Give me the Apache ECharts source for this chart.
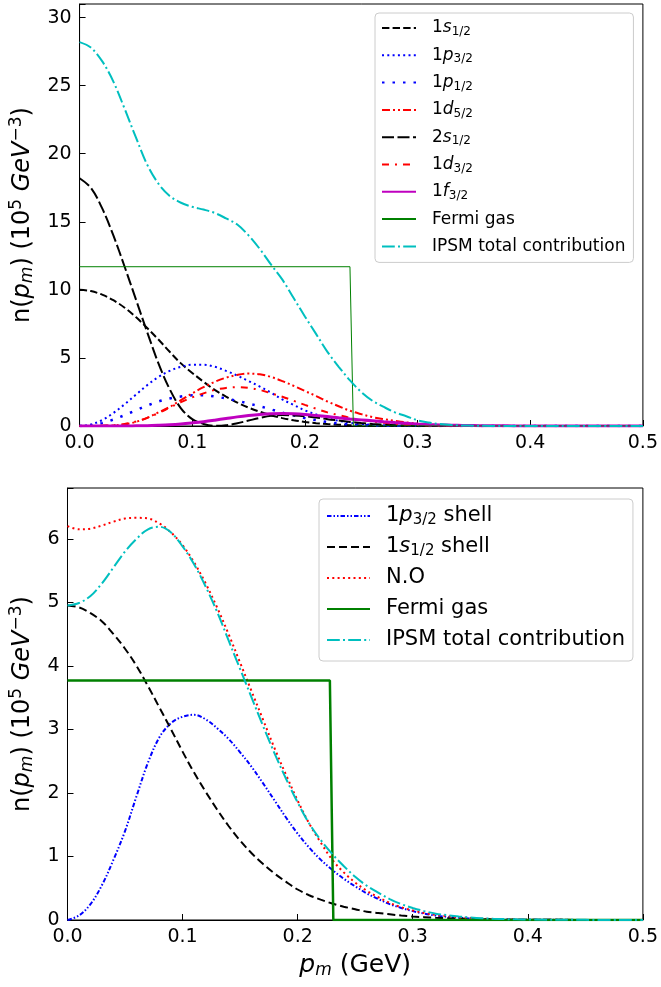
<!DOCTYPE html>
<html><head><meta charset="utf-8">
<script src="https://cdn.jsdelivr.net/npm/echarts@6/dist/echarts.min.js"></script>
<style>html,body{margin:0;padding:0;background:#fff}#c{width:661px;height:987px}</style>
</head><body><div id="c"></div>
<script>
// momentum grid (GeV)
const pm = [0,0.01,0.02,0.03,0.04,0.05,0.06,0.07,0.08,0.09,0.10,0.11,0.12,0.13,0.14,0.15,0.16,0.17,0.18,0.19,0.20,0.21,0.22,0.23,0.24,0.25,0.26,0.27,0.28,0.29,0.30,0.31,0.32,0.33,0.34,0.35,0.36,0.37,0.38,0.39,0.40,0.45,0.50];
const xTicks = ['0.0','0.1','0.2','0.3','0.4','0.5'];

// ---- top panel (units 10^5 GeV^-3) ----
const top1s  = [10,9.91,9.65,9.24,8.69,8.0,7.2,6.35,5.45,4.6, 3.9,3.25,2.65,2.15,1.72,1.35,1.05,0.79,0.58,0.42, 0.3,0.21,0.14,0.095,0.063,0.041,0.026,0.016,0.01,0.006, 0.004,0.002,0.001,0,0,0,0,0,0,0,0, 0,0];
const top1p3 = [0,0.11,0.43,0.95,1.6,2.3,3.0,3.6,4.05,4.35, 4.5,4.5,4.35,4.05,3.7,3.3,2.9,2.45,1.95,1.55, 1.15,0.85,0.58,0.38,0.24,0.15,0.09,0.05,0.03,0.02, 0.01,0.005,0,0,0,0,0,0,0,0,0, 0,0];
const top1p1 = [0,0.05,0.21,0.47,0.8,1.15,1.5,1.8,2.02,2.17, 2.25,2.25,2.17,2.02,1.85,1.65,1.45,1.22,0.98,0.78, 0.58,0.43,0.29,0.19,0.12,0.07,0.045,0.025,0.015,0.01, 0.005,0,0,0,0,0,0,0,0,0,0, 0,0];
const top1d5 = [0,0,0.02,0.05,0.12,0.3,0.6,1.0,1.4,1.9, 2.4,2.85,3.25,3.55,3.75,3.85,3.8,3.6,3.3,2.95, 2.57,2.2,1.8,1.45,1.12,0.87,0.65,0.5,0.38,0.26, 0.17,0.1,0.06,0.03,0.02,0.01,0,0,0,0,0, 0,0];
const top2s  = [18.2,17.5,16.0,14.0,11.7,9.3,6.9,4.6,2.7,1.3, 0.5,0.15,0.01,0.05,0.2,0.4,0.6,0.75,0.8,0.78, 0.72,0.62,0.5,0.4,0.3,0.22,0.15,0.1,0.06,0.04, 0.02,0.01,0,0,0,0,0,0,0,0,0, 0,0];
const top1d3 = [0,0,0.02,0.06,0.15,0.33,0.6,0.95,1.35,1.75, 2.1,2.4,2.65,2.8,2.85,2.8,2.65,2.4,2.15,1.85, 1.55,1.27,1.0,0.8,0.6,0.45,0.33,0.23,0.16,0.1, 0.07,0.04,0.02,0.01,0,0,0,0,0,0,0, 0,0];
const top1f  = [0,0,0,0,0,0.01,0.02,0.05,0.09,0.15, 0.23,0.32,0.43,0.55,0.67,0.77,0.85,0.9,0.92,0.9, 0.85,0.77,0.69,0.6,0.52,0.45,0.38,0.31,0.25,0.2, 0.15,0.11,0.08,0.06,0.04,0.03,0.02,0.015,0.01,0.005,0, 0,0];
const topIPSM= [28.2,27.8,26.8,25.3,23.3,21.2,19.2,17.8,16.9,16.4, 16.1,15.9,15.65,15.25,14.8,14.0,13.0,11.85,10.75,9.4, 8.05,6.75,5.45,4.35,3.35,2.5,1.85,1.4,1.0,0.72, 0.42,0.25,0.14,0.07,0.04,0.02,0.01,0,0,0,0, 0,0];
const topFermiX = [0,0.240,0.243,0.5];
const topFermiY = [11.7,11.7,0,0];

// ---- bottom panel ----
const bot1p3 = [0,0.07,0.25,0.55,0.95,1.4,1.95,2.48,2.88,3.1, 3.2,3.23,3.16,3.02,2.85,2.64,2.41,2.15,1.88,1.61, 1.36,1.14,0.95,0.79,0.65,0.53,0.42,0.33,0.25,0.19, 0.14,0.1,0.07,0.05,0.035,0.025,0.015,0.01,0.008,0.005,0.004, 0.001,0];
const bot1s  = [4.95,4.92,4.83,4.7,4.5,4.27,4.0,3.68,3.34,3.0, 2.65,2.32,2.02,1.74,1.48,1.25,1.05,0.88,0.73,0.6, 0.48,0.39,0.32,0.26,0.21,0.17,0.13,0.11,0.09,0.07, 0.055,0.045,0.035,0.028,0.022,0.017,0.013,0.01,0.008,0.006,0.005, 0.001,0];
const botNO  = [6.2,6.15,6.16,6.21,6.27,6.32,6.33,6.32,6.24,6.1, 5.9,5.63,5.3,4.92,4.5,4.05,3.6,3.15,2.7,2.28, 1.88,1.52,1.22,0.95,0.75,0.59,0.46,0.36,0.27,0.2, 0.15,0.11,0.08,0.06,0.04,0.03,0.02,0.015,0.01,0.007,0.005, 0.001,0];
const botIPSM= [4.95,4.99,5.1,5.3,5.55,5.8,6.0,6.15,6.19,6.1, 5.88,5.6,5.25,4.85,4.4,3.95,3.5,3.05,2.62,2.22, 1.85,1.52,1.26,1.04,0.85,0.68,0.54,0.43,0.33,0.25, 0.19,0.14,0.1,0.075,0.055,0.04,0.028,0.02,0.015,0.01,0.008, 0.002,0];
const botFermiX = [0,0.228,0.231,0.5];
const botFermiY = [3.77,3.77,0,0];

const FF = 'DejaVu Sans';
const pts = (xs, ys) => xs.map((x, i) => [x, ys[i]]);

const legendNames = {
  t1s:'{sp| }{n|1}{i|s}{sub|1/2}', t1p3:'{sp| }{n|1}{i|p}{sub|3/2}', t1p1:'{sp| }{n|1}{i|p}{sub|1/2}',
  t1d5:'{sp| }{n|1}{i|d}{sub|5/2}', t2s:'{sp| }{n|2}{i|s}{sub|1/2}', t1d3:'{sp| }{n|1}{i|d}{sub|3/2}',
  t1f:'{sp| }{n|1}{i|f}{sub|3/2}', tF:'{sp| }{n|Fermi gas}', tI:'{sp| }{n|IPSM total contribution}',
  b1p3:'{sp| }{n|1}{i|p}{sub|3/2}{n| shell}', b1s:'{sp| }{n|1}{i|s}{sub|1/2}{n| shell}', bNO:'{sp| }{n|N.O}',
  bF:'{sp| }{n|Fermi gas}', bI:'{sp| }{n|IPSM total contribution}'
};

function ln(name, gi, xs, ys, color, width, type, smooth) {
  return { name, type:'line', xAxisIndex:gi, yAxisIndex:gi, data: pts(xs, ys), symbol:'none', showSymbol:false,
    smooth: smooth === false ? false : 0.35, lineStyle:{color, width, type, cap:'butt'}, itemStyle:{color}, silent:true };
}

function richSet(fs, lh) {
  return {
    sp:{width: 11, fontSize: fs, lineHeight: lh},
    n:{fontFamily:FF, fontSize:fs, color:'#000', lineHeight:lh},
    i:{fontFamily:FF, fontSize:fs, fontStyle:'italic', color:'#000', lineHeight:lh},
    sub:{fontFamily:FF, fontSize:Math.round(fs*0.7), color:'#000', lineHeight:lh, padding:[Math.round(fs*0.45),0,0,0]}
  };
}

function yName(fs) {
  return {
    text: '{n|n(}{i|p}{sub|m}{n|) (10}{sup|5}{i| GeV}{sup|−3}{n|)}',
    rich: {
      n:{fontFamily:FF, fontSize:fs, color:'#000'},
      i:{fontFamily:FF, fontSize:fs, fontStyle:'italic', color:'#000'},
      sub:{fontFamily:FF, fontSize:Math.round(fs*0.7), fontStyle:'italic', color:'#000', padding:[Math.round(fs*0.45),0,0,0]},
      sup:{fontFamily:FF, fontSize:Math.round(fs*0.7), color:'#000', padding:[0,0,Math.round(fs*0.5),0]}
    }
  };
}

const axCommon = {
  axisLine:{show:true, lineStyle:{color:'#000', width:1}},
  axisTick:{show:true, inside:true, length:6, lineStyle:{color:'#000', width:1}},
  splitLine:{show:false}
};
const yTop = yName(24), yBot = yName(24);

const option = {
  animation:false,
  backgroundColor:'#fff',
  grid:[
    {left:78, top:4, right:15, height:422, show:true, borderColor:'#000', borderWidth:1, backgroundColor:'transparent'},
    {left:66, top:488, right:16, height:432, show:true, borderColor:'#000', borderWidth:1, backgroundColor:'transparent'}
  ],
  xAxis:[
    Object.assign({gridIndex:0, type:'value', min:0, max:0.5, interval:0.1,
      axisLabel:{color:'#000', fontFamily:FF, fontSize:19, margin:8, formatter:v => xTicks[Math.round(v*10)] || ''}}, axCommon),
    Object.assign({gridIndex:1, type:'value', min:0, max:0.5, interval:0.1,
      axisLabel:{color:'#000', fontFamily:FF, fontSize:19, margin:8, formatter:v => xTicks[Math.round(v*10)] || ''},
      name:'{i|p}{sub|m}{n| (GeV)}', nameLocation:'middle', nameGap:31,
      nameTextStyle:{rich:{
        n:{fontFamily:FF, fontSize:25, color:'#000'},
        i:{fontFamily:FF, fontSize:25, fontStyle:'italic', color:'#000'},
        sub:{fontFamily:FF, fontSize:17, fontStyle:'italic', color:'#000', padding:[11,0,0,0]}
      }}}, axCommon)
  ],
  yAxis:[
    Object.assign({gridIndex:0, type:'value', min:0, max:31, interval:5,
      axisLabel:{color:'#000', fontFamily:FF, fontSize:19, margin:8, formatter:v => (Math.abs(v % 5) < 1e-9 ? String(v) : '')},
      name: yTop.text, nameLocation:'middle', nameRotate:90, nameGap:40, nameTextStyle:{rich:yTop.rich}}, axCommon),
    Object.assign({gridIndex:1, type:'value', min:0, max:6.8, interval:1,
      axisLabel:{color:'#000', fontFamily:FF, fontSize:19, margin:8, formatter:v => (Math.abs(v - Math.round(v)) < 1e-9 ? String(Math.round(v)) : '')},
      name: yBot.text, nameLocation:'middle', nameRotate:90, nameGap:28, nameTextStyle:{rich:yBot.rich}}, axCommon)
  ],
  legend:[
    {orient:'vertical', left:375, top:13, padding:[5,8,6,6], itemWidth:34, itemHeight:14, itemGap:7.3,
     backgroundColor:'rgba(255,255,255,0.8)', borderColor:'#cccccc', borderWidth:1, borderRadius:4, selectedMode:false,
     itemStyle:{opacity:0},
     data:['t1s','t1p3','t1p1','t1d5','t2s','t1d3','t1f','tF','tI'],
     formatter: n => legendNames[n], textStyle:{fontFamily:FF, fontSize:17, color:'#000', lineHeight:20, rich:richSet(17,20)}},
    {orient:'vertical', left:319, top:499, padding:[5,8,9,7], itemWidth:43, itemHeight:14, itemGap:7,
     backgroundColor:'rgba(255,255,255,0.8)', borderColor:'#cccccc', borderWidth:1, borderRadius:4, selectedMode:false,
     itemStyle:{opacity:0},
     data:['b1p3','b1s','bNO','bF','bI'],
     formatter: n => legendNames[n], textStyle:{fontFamily:FF, fontSize:21, color:'#000', lineHeight:24, rich:richSet(21,24)}}
  ],
  series:[
    ln('t1s', 0, pm, top1s, '#000000', 2, [7.4,3.2]),
    ln('t1p3', 0, pm, top1p3, '#0000ff', 2, [2,3.3]),
    ln('t1p1', 0, pm, top1p1, '#0000ff', 2.5, [2.5,8]),
    ln('t1d5', 0, pm, top1d5, '#ff0000', 2, [8,3,2,3,2,3]),
    ln('t2s', 0, pm, top2s, '#000000', 2, [12,3.5]),
    ln('t1d3', 0, pm, top1d3, '#ff0000', 2, [7,6,2,6]),
    ln('t1f', 0, pm, top1f, '#bf00bf', 3, 'solid'),
    ln('tF', 0, topFermiX, topFermiY, '#008000', 1, 'solid', false),
    ln('tI', 0, pm, topIPSM, '#00bfbf', 2, [12.8,3.2,2,3.2]),
    ln('b1p3', 1, pm, bot1p3, '#0000ff', 2, [4.5,2,1.5,2,1.5,2]),
    ln('b1s', 1, pm, bot1s, '#000000', 2, [8,4]),
    ln('bNO', 1, pm, botNO, '#ff0000', 2, [2,3.3]),
    ln('bF', 1, botFermiX, botFermiY, '#008000', 2.5, 'solid', false),
    ln('bI', 1, pm, botIPSM, '#00bfbf', 2, [12.8,3.2,2,3.2])
  ]
};
const chart = echarts.init(document.getElementById('c'), null, {renderer:'canvas'});
chart.setOption(option);
</script>
</body></html>
